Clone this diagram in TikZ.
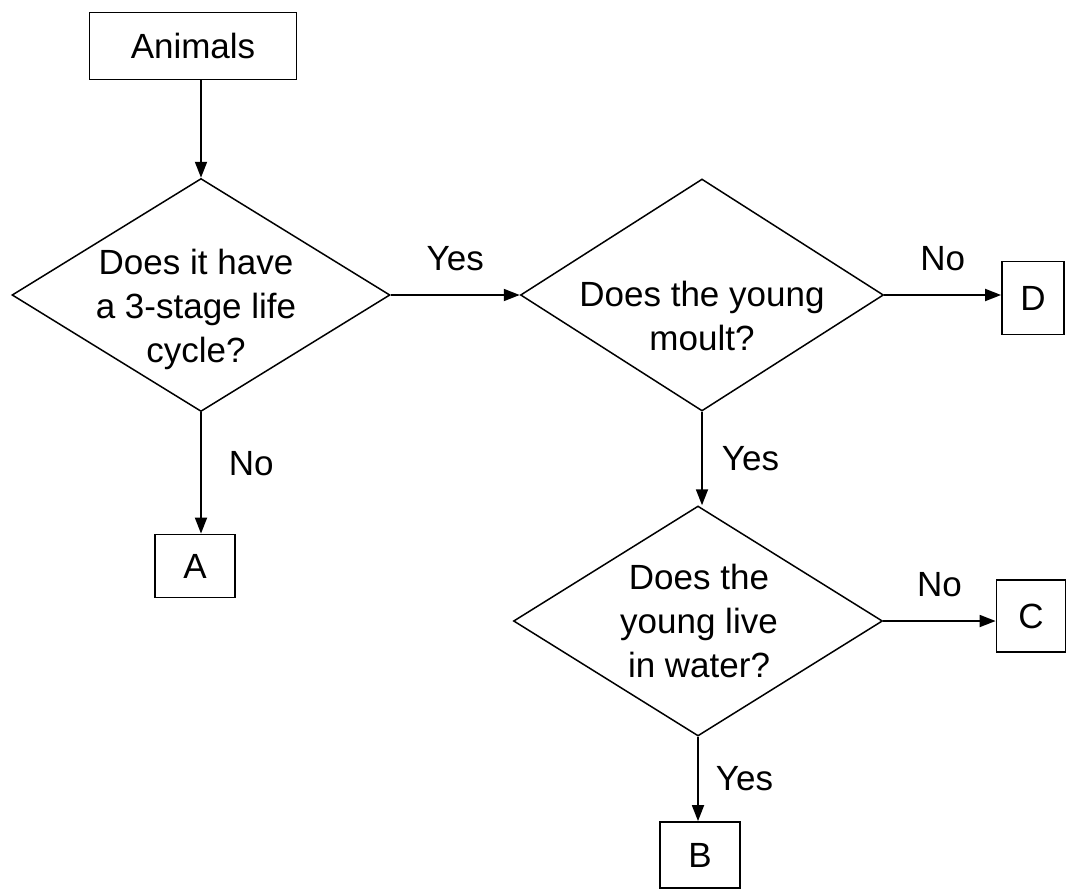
\documentclass[tikz,border=0pt]{standalone}
\usepackage{fontspec}
\setmainfont{Liberation Sans}
\usetikzlibrary{shapes.geometric}
\usetikzlibrary{arrows.meta}

\begin{document}
\begin{tikzpicture}[x=1pt, y=-1pt,
    txt/.style = {font=\fontsize{35}{44}\selectfont, inner sep=3pt},
    leaf/.style = {draw, line width=1.8pt, inner sep=0pt, txt},
    decision/.style = {draw, diamond, line width=1.5pt, inner sep=0pt,
      minimum width=372pt, minimum height=232pt},
    question/.style = {txt, align=center},
    flow/.style = {line width=1.8pt, -{Triangle[length=16pt, width=12pt]}}]
    \useasboundingbox (0,0) rectangle (1070,891);

    % boxes
    \node[leaf, minimum width=207pt, minimum height=67pt] (animals) at (193,46) {Animals};
    \node[leaf, minimum width=80pt, minimum height=63pt] (a) at (195,566) {A};
    \node[leaf, minimum width=80pt, minimum height=66pt] (b) at (700,855) {B};
    \node[leaf, minimum width=69pt, minimum height=72pt] (c) at (1031,616) {C};
    \node[leaf, minimum width=62pt, minimum height=73pt] (d) at (1033,298) {D};

    % questions
    \node[decision, minimum width=378pt, minimum height=233pt] (lifecycle) at (201,295) {};
    \node[question] (lifecycleq) at (196,309) {Does it have\\a 3-stage life\\cycle?};
    \node[decision, minimum width=363pt] (moult) at (702,295) {};
    \node[question] (moultq) at (702,316) {Does the young\\moult?};
    \node[decision, minimum width=369pt, minimum height=230pt] (water) at (698,621) {};
    \node[question] (waterq) at (699,621) {Does the\\young live\\in water?};

    % arrows
    \draw[flow] (animals.south -| lifecycle.north) -- (lifecycle.north);
    \draw[flow] (lifecycle.east) -- node[txt, midway, above=20pt] (yes1) {Yes} (moult.west);
    \draw[flow] (moult.east) -- node[txt, midway, above=20pt] (no1) {No} (moult.east -| d.west);
    \draw[flow] (lifecycle.south) -- node[txt, pos=0.42, right=24pt] (no2) {No} (lifecycle.south |- a.north);
    \draw[flow] (moult.south) -- node[txt, midway, right=16pt] (yes2) {Yes} (moult.south |- water.north);
    \draw[flow] (water.east) -- node[txt, midway, above=20pt] (no3) {No} (water.east -| c.west);
    \draw[flow] (water.south) -- node[txt, midway, right=14pt] (yes3) {Yes} (water.south |- b.north);
\end{tikzpicture}
\end{document}
